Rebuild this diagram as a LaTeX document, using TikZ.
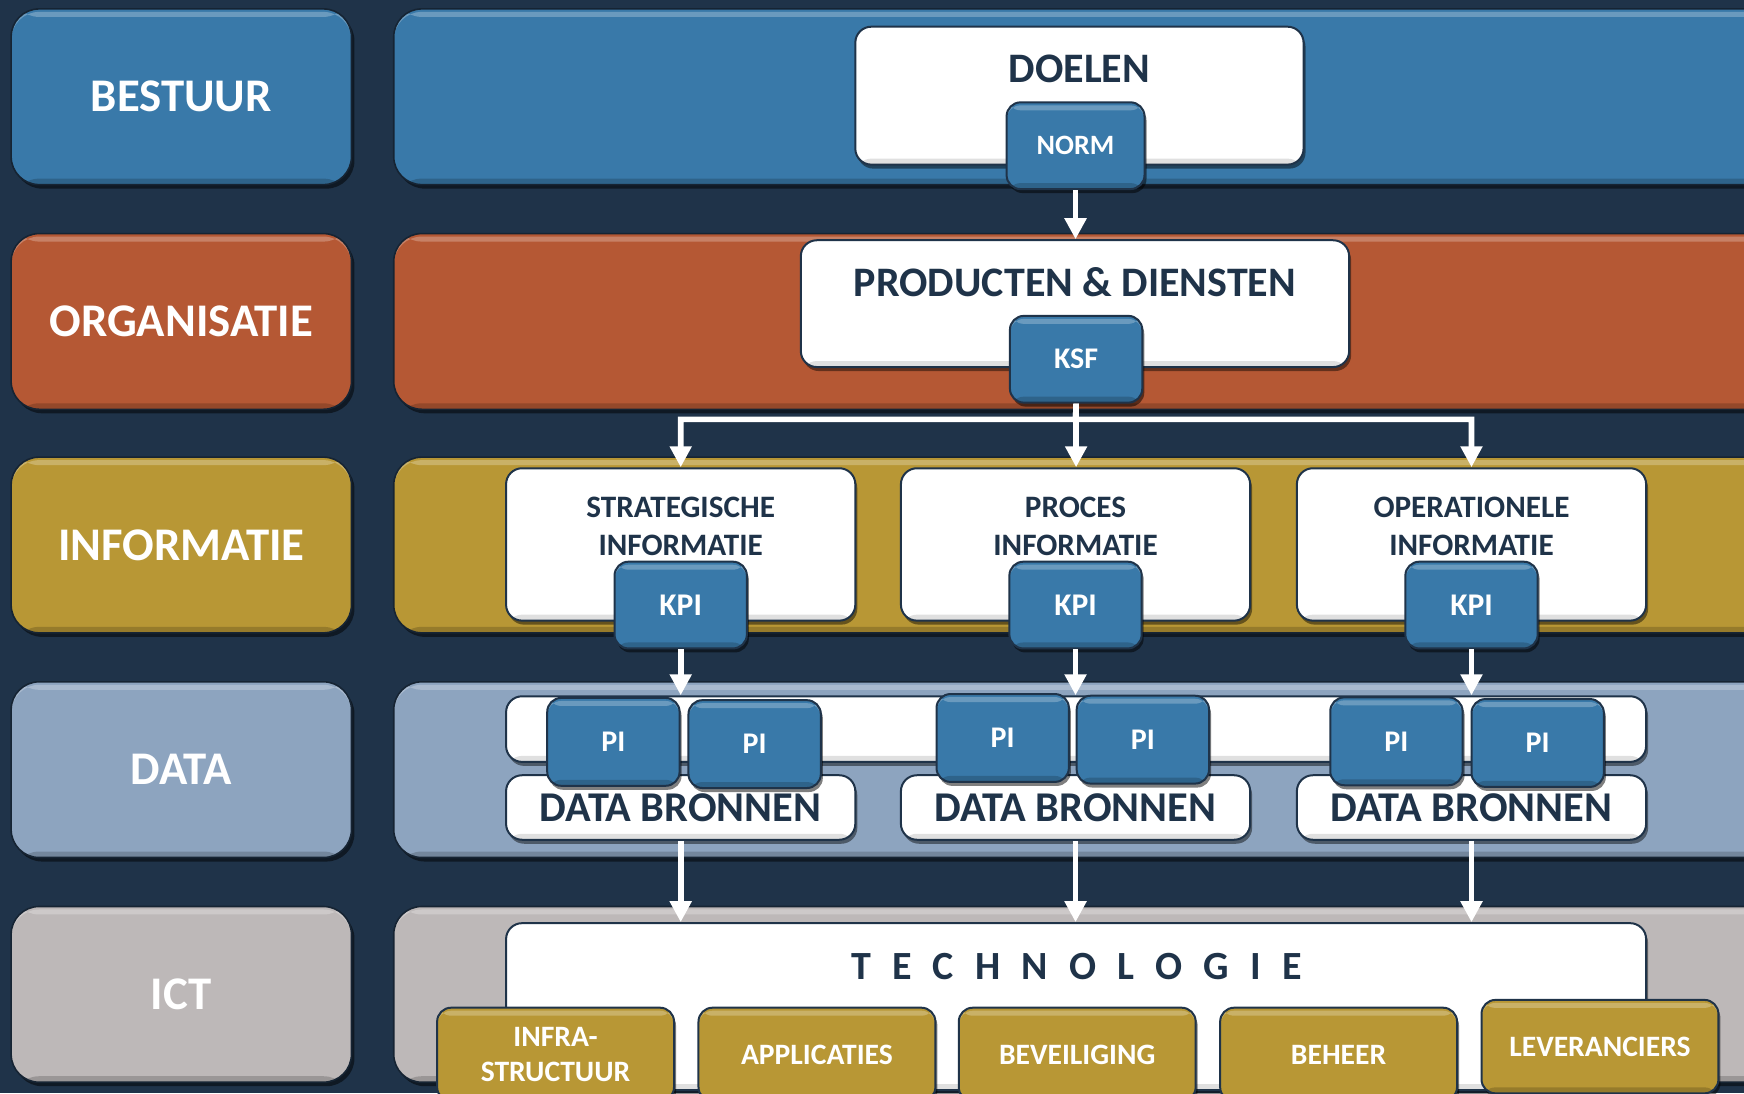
\documentclass[tikz,border=0pt]{standalone}
\usepackage{fontspec}
\setmainfont{Carlito}
\usetikzlibrary{arrows.meta,shadows}

\definecolor{navy}{RGB}{31,51,73}
\definecolor{bblue}{RGB}{57,121,169}
\definecolor{borange}{RGB}{181,88,52}
\definecolor{bgold}{RGB}{184,151,53}
\definecolor{bdata}{RGB}{141,164,191}
\definecolor{bict}{RGB}{189,184,184}
\newcommand{\px}{0.5561pt}

\tikzset{
  bevel/.style={path picture={
    \fill[white, opacity=.25] ([yshift=-1.5pt]path picture bounding box.north west)
      rectangle ([yshift=-4pt]path picture bounding box.north east);
    \fill[black, opacity=#1] (path picture bounding box.south west)
      rectangle ([yshift=3pt]path picture bounding box.south east);}},
  bevel/.default=.18,
  layer/.style={draw=navy!70!black, line width=0.8pt, rounded corners=14pt,
    minimum width=306*\px, minimum height=158*\px, text=white, bevel,
    font=\bfseries\fontsize{23.4}{28}\selectfont,
    drop shadow={shadow xshift=1.5pt, shadow yshift=-2pt, opacity=.5, fill=black}},
  band/.style={layer, minimum width=1266*\px},
  wbox/.style={fill=white, draw=navy, line width=1pt, rounded corners=8pt, bevel=.12,
    drop shadow={shadow xshift=1pt, shadow yshift=-2pt, opacity=.45, fill=black}},
  sbox/.style={fill=bblue, draw=navy, line width=1pt, rounded corners=7pt,
    minimum width=119*\px, minimum height=78*\px, text=white, bevel,
    font=\bfseries\fontsize{15}{18}\selectfont,
    drop shadow={shadow xshift=1pt, shadow yshift=-2pt, opacity=.5, fill=black}},
  gbox/.style={sbox, fill=bgold, minimum width=213*\px, minimum height=84*\px,
    align=center, font=\bfseries\fontsize{14.8}{17.8}\selectfont},
  title/.style={text=navy, font=\bfseries\fontsize{21}{25}\selectfont},
  infotext/.style={text=navy, align=center, font=\bfseries\fontsize{15.6}{19}\selectfont},
  arr/.style={draw=white, line width=2.8pt, -{Triangle[width=10.5pt,length=10.5pt]}}
}

\begin{document}
\begin{tikzpicture}[x=\px,y=-\px]
\clip (0,0) rectangle (1568,983);
\fill[navy] (0,0) rectangle (1568,983);

\foreach \y/\c/\t [count=\i] in {87/bblue/BESTUUR, 289/borange/ORGANISATIE,
    490/bgold/INFORMATIE, 692/bdata/DATA, 894/bict/ICT}{
  \node[layer, fill=\c] (lab\i) at (163,\y) {\t};
  \node[band, fill=\c] (band\i) at (987,\y) {};
}

\node[wbox, minimum width=403*\px, minimum height=124*\px] (doelen) at (970.5,86) {};
\node[title] (doelentxt) at (970.5,62) {DOELEN};
\node[sbox, font=\bfseries\fontsize{14}{17}\selectfont, minimum width=124*\px] (norm) at (967,131) {NORM};

\node[wbox, minimum width=493*\px, minimum height=114*\px] (producten) at (966.5,273) {};
\node[title] (productentxt) at (966.5,254) {PRODUCTEN \& DIENSTEN};
\node[sbox] (ksf) at (967.5,323) {KSF};

\foreach \x/\a [count=\i] in {612/STRATEGISCHE, 967/PROCES, 1323/OPERATIONELE}{
  \node[wbox, minimum width=314*\px, minimum height=137*\px] (info\i) at (\x,489.5) {};
  \node[infotext] (infotxt\i) at (\x,473) {\a\\INFORMATIE};
  \node[sbox, font=\bfseries\fontsize{15.8}{19}\selectfont] (kpi\i) at (\x,544) {KPI};
}

\node[wbox, minimum width=1025*\px, minimum height=59*\px] (strip) at (967.5,655.5) {};
\foreach \x [count=\i] in {612,967,1323}
  \node[wbox, minimum width=314*\px, minimum height=58*\px, text=navy,
    font=\bfseries\fontsize{21.2}{25}\selectfont] (bron\i) at (\x,726) {DATA BRONNEN};
\foreach \x/\y [count=\i] in {551.5/667, 678.5/669, 901.5/663.5, 1027.5/665, 1255.5/666.5, 1382.5/668}
  \node[sbox, minimum height=79*\px] (pi\i) at (\x,\y) {PI};

\node[wbox, minimum width=1025*\px, minimum height=150*\px] (techno) at (967.5,905) {};
\node[text=navy, font=\bfseries\fontsize{20}{24}\selectfont] (technotxt) at (968,869)
  {\spaceskip=0.53em T E C H N O L O G I E};
\foreach \x/\y/\t [count=\i] in {499.5/948/{INFRA-\\STRUCTUUR}, 734.5/948/APPLICATIES,
    968.5/948/BEVEILIGING, 1203.5/948/BEHEER, 1438.5/941/LEVERANCIERS}
  \node[gbox] (ict\i) at (\x,\y) {\t};

\coordinate (split) at (967,377);
\draw[arr] (norm.south) -- (norm.south |- producten.north);
\draw[arr] (ksf.south) -- (ksf.south |- info2.north);
\draw[arr] (ksf.south) -- (split) -| (info1.north);
\draw[arr] (ksf.south) -- (split) -| (info3.north);
\foreach \i in {1,2,3}{
  \draw[arr] (info\i.south |- kpi\i.south) -- (info\i.south |- strip.north);
  \draw[arr] (bron\i.south) -- (bron\i.south |- techno.north);
}
\end{tikzpicture}
\end{document}
